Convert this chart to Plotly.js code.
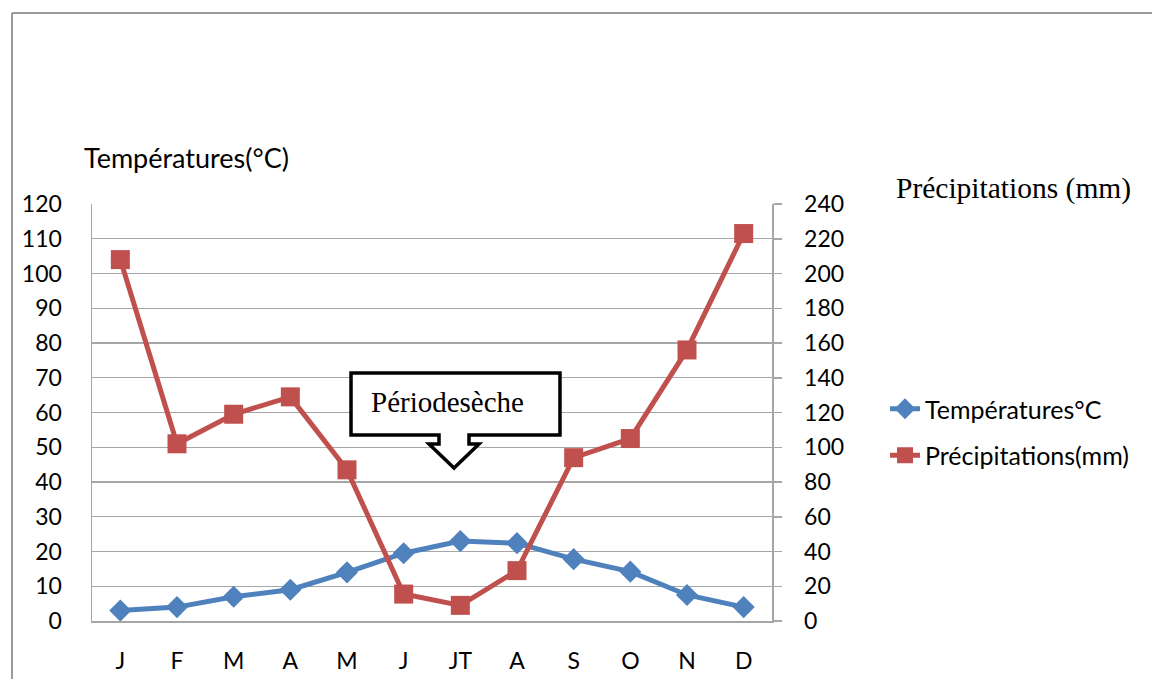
<!DOCTYPE html>
<html>
<head>
<meta charset="utf-8">
<script src="https://cdn.plot.ly/plotly-3.0.1.min.js"></script>
<style>
  html, body { margin: 0; padding: 0; background: #fff; }
  #chart { width: 1152px; height: 679px; }
</style>
</head>
<body>
<div id="chart"></div>
<script>
// ---- data ----
const months = ["J", "F", "M", "A", "M", "J", "JT", "A", "S", "O", "N", "D"];
const temperatures = [3, 4, 7, 9, 14, 19.5, 23, 22.4, 17.8, 14.2, 7.5, 4];
const precipitations = [208, 102, 119, 129, 87, 15.5, 9, 29, 94, 105, 156, 223];
const tempName = "Températures°C";
const precName = "Précipitations(mm)";
const tempAxisTitle = "Températures(°C)";
const precAxisTitle = "Précipitations (mm)";
const calloutText = "Périodesèche";

// ---- layout geometry (pixels) ----
const W = 1152, H = 679;
const M = { l: 92, r: 380, t: 204, b: 58 };
const PW = W - M.l - M.r, PH = H - M.t - M.b;
const px = x => (x - M.l) / PW;
const py = y => (H - M.b - y) / PH;

const xIdx = months.map((_, i) => i);
const sansFont = "Lato, 'Open Sans', sans-serif";
const serifFont = "'Liberation Serif', 'DejaVu Serif', serif";
const gridCol = "#a6a6a6";

const traces = [
  {
    x: xIdx, y: temperatures, name: tempName, type: "scatter", mode: "lines+markers",
    line: { color: "#4F81BD", width: 5 },
    marker: { symbol: "diamond", size: 17, color: "#4F81BD" },
    yaxis: "y", legendgroup: "t"
  },
  {
    x: xIdx, y: precipitations, name: precName, type: "scatter", mode: "lines+markers",
    line: { color: "#C0504D", width: 5 },
    marker: { symbol: "square", size: 19, color: "#C0504D" },
    yaxis: "y2", legendgroup: "p"
  }
];

// callout path (pixels -> paper)
const pts = [[351,373],[560,373],[560,435],[469,435],[469,444],[479,444],[454,468],[429,444],[439,444],[439,435],[351,435]];
const pathStr = pts.map((p, i) => (i ? "L" : "M") + px(p[0]).toFixed(4) + "," + py(p[1]).toFixed(4)).join(" ") + " Z";

const layout = {
  width: W, height: H,
  margin: M,
  paper_bgcolor: "#fff", plot_bgcolor: "#fff",
  showlegend: true,
  legend: {
    x: px(885), y: py(386), xanchor: "left", yanchor: "top",
    font: { family: sansFont, size: 25, color: "#000" },
    tracegroupgap: 11, bgcolor: "rgba(0,0,0,0)"
  },
  xaxis: {
    range: [-0.5, 11.5], tickmode: "array", tickvals: xIdx, ticktext: months,
    showgrid: false, zeroline: false, showline: true, linecolor: gridCol, linewidth: 1.5,
    ticks: "", ticklabelstandoff: 19,
    tickfont: { family: sansFont, size: 23, color: "#000" }, fixedrange: true
  },
  yaxis: {
    range: [0, 120], dtick: 10, tick0: 0,
    showgrid: true, gridcolor: gridCol, gridwidth: 1.2, zeroline: false,
    showline: true, linecolor: gridCol, linewidth: 1.5,
    ticks: "", ticklabelstandoff: 24,
    tickfont: { family: sansFont, size: 23, color: "#000" }
  },
  yaxis2: {
    range: [0, 240], dtick: 20, tick0: 0, overlaying: "y", side: "right",
    showgrid: false, zeroline: false, showline: true, linecolor: gridCol, linewidth: 1.5,
    ticks: "outside", ticklen: 8, tickcolor: gridCol, tickwidth: 1.5, ticklabelstandoff: 18,
    tickfont: { family: sansFont, size: 23, color: "#000" }
  },
  shapes: [
    { type: "line", xref: "paper", yref: "paper", x0: px(12), x1: px(1160), y0: py(13), y1: py(13),
      line: { color: "#9a9a9a", width: 2 } },
    { type: "line", xref: "paper", yref: "paper", x0: px(12), x1: px(12), y0: py(13), y1: py(690),
      line: { color: "#9a9a9a", width: 2 } },
    { type: "path", xref: "paper", yref: "paper", path: pathStr,
      fillcolor: "#fff", line: { color: "#000", width: 3.5 }, layer: "above" }
  ],
  annotations: [
    { text: tempAxisTitle, xref: "paper", yref: "paper", x: px(82), y: py(157),
      xanchor: "left", yanchor: "middle", showarrow: false,
      font: { family: sansFont, size: 27, color: "#000" } },
    { text: precAxisTitle, xref: "paper", yref: "paper", x: px(894), y: py(188),
      xanchor: "left", yanchor: "middle", showarrow: false,
      font: { family: serifFont, size: 29.5, color: "#000" } },
    { text: calloutText, xref: "paper", yref: "paper", x: px(369), y: py(402),
      xanchor: "left", yanchor: "middle", showarrow: false,
      font: { family: serifFont, size: 29, color: "#000" } }
  ]
};

Plotly.newPlot("chart", traces, layout, { displayModeBar: false, staticPlot: true });
</script>
</body>
</html>
